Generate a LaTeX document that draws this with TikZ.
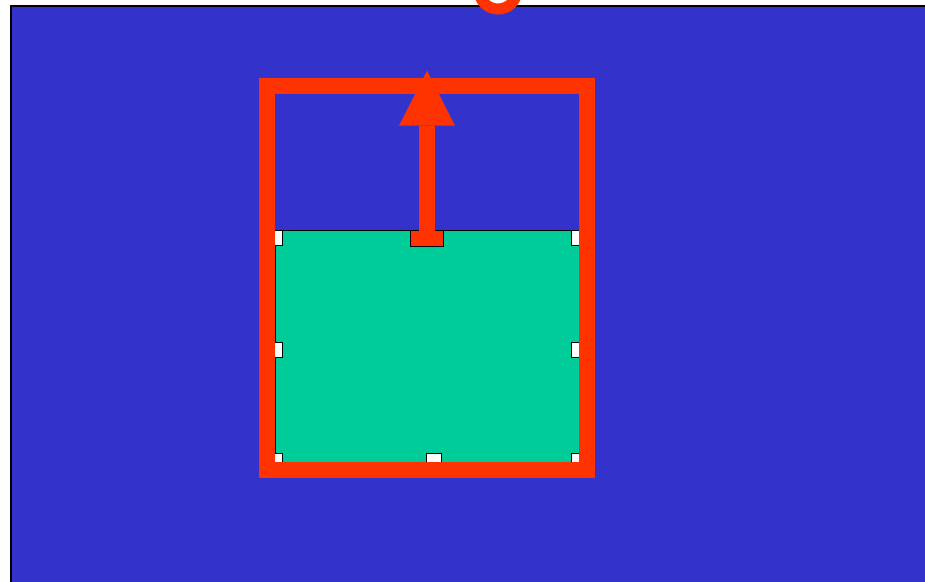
\documentclass[tikz,border=0pt]{standalone}
\usetikzlibrary{arrows.meta}
\definecolor{canvasblue}{RGB}{51,51,204}
\definecolor{shapegreen}{RGB}{0,204,153}
\definecolor{selred}{RGB}{255,51,0}
\begin{document}
\begin{tikzpicture}[
		x=1pt, y=-1pt,
		canvas/.style={rectangle, draw=black, fill=canvasblue, line width=1.5pt, inner sep=0pt, outer sep=0pt, anchor=north west},
		shapebox/.style={rectangle, draw=black, fill=shapegreen, line width=1pt, inner sep=0pt, outer sep=0pt},
		selframe/.style={rectangle, draw=selred, line width=16pt, inner sep=0pt, outer sep=0pt},
		handle/.style={rectangle, draw=black, fill=white, line width=1.3pt, minimum width=14.7pt, minimum height=14.7pt, inner sep=0pt, outer sep=0pt},
		activehandle/.style={handle, fill=selred, minimum width=32.7pt, minimum height=15.7pt},
		growarr/.style={-{Triangle[length=55pt, width=56pt, line width=0pt]}, draw=selred, line width=16pt},
		rotor/.style={circle, draw=selred, line width=11pt, minimum size=38pt, inner sep=0pt},
	]
	\useasboundingbox (0,0) rectangle (925,581);
	\clip (0,0) rectangle (925,581);

	% Canvas
	\node[canvas, minimum width=940pt, minimum height=600pt] (page) at (10.75,5.75) {};

	% Shape
	\node[shapebox, minimum width=304pt, minimum height=240pt] (shape) at (427,350.5) {};

	% Handles
	\node[handle] (tl) at (275,238) {};
	\node[handle] (tr) at (579,238) {};
	\node[handle] (ml) at (275,350) {};
	\node[handle] (mr) at (579,350) {};
	\node[handle] (bl) at (275,461) {};
	\node[handle] (bm) at (434,461) {};
	\node[handle] (br) at (579,461) {};
	\node[activehandle] (tm) at (427,238.5) {};

	% Selection
	\node[selframe, minimum width=320pt, minimum height=384pt] (sel) at (427,278.3) {};
	\coordinate (tip) at (427,70.7);
	\draw[growarr] (tm.north) -- (tip);

	% Rotate handle
	\node[rotor] (turn) at (498,-10) {};

\end{tikzpicture}
\end{document}
